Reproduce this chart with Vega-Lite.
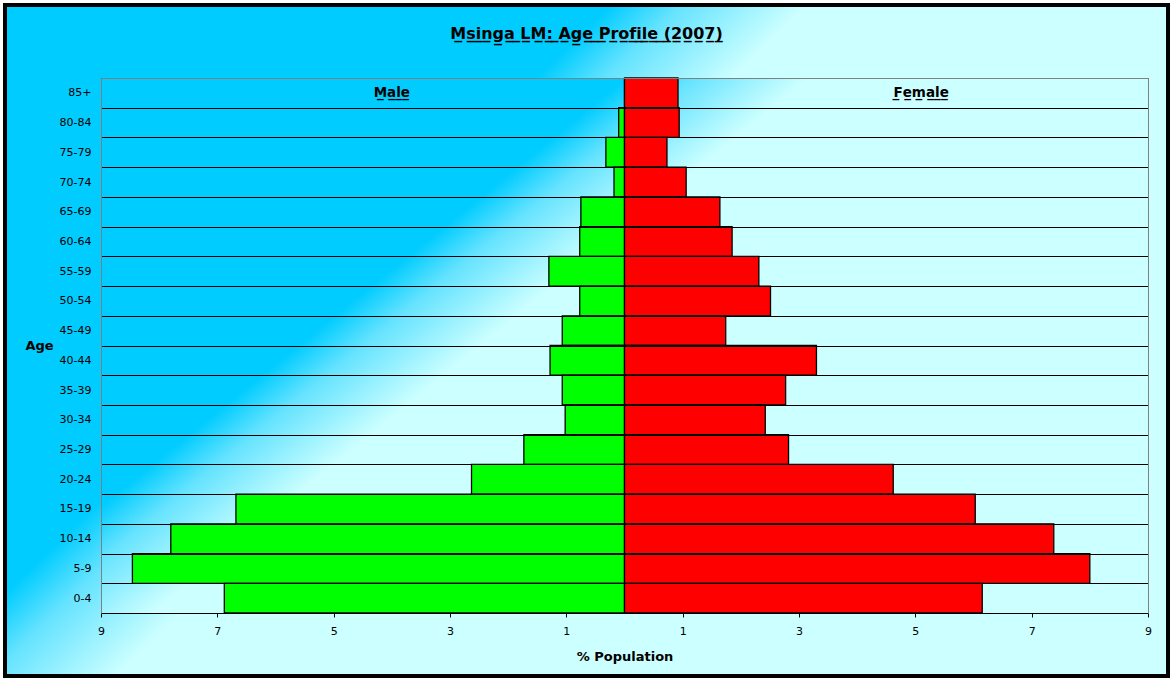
{
  "$schema": "https://vega.github.io/schema/vega-lite/v6.json",
  "width": 1163,
  "height": 671,
  "autosize": {"type": "none"},
  "padding": 5,
  "background": "#FFFFFF",
  "config": {
    "font": "DejaVu Sans",
    "view": {
      "stroke": "#000000",
      "strokeWidth": 4,
      "fill": {
        "gradient": "linear",
        "x1": 0, "y1": 0, "x2": 1, "y2": 0.594,
        "stops": [
          {"offset": 0, "color": "#00CCFF"},
          {"offset": 0.385, "color": "#00CCFF"},
          {"offset": 0.43, "color": "#66E3FF"},
          {"offset": 0.51, "color": "#CCFFFF"},
          {"offset": 1, "color": "#CCFFFF"}
        ]
      }
    }
  },
  "title": {
    "text": "M\u0332s\u0332i\u0332n\u0332g\u0332a\u0332 \u0332L\u0332M\u0332:\u0332 \u0332A\u0332g\u0332e\u0332 \u0332P\u0332r\u0332o\u0332f\u0332i\u0332l\u0332e\u0332 \u0332(\u03322\u03320\u03320\u03327\u0332)\u0332",
    "anchor": "middle",
    "frame": "group",
    "offset": -56,
    "baseline": "alphabetic",
    "font": "DejaVu Sans",
    "fontSize": 16,
    "fontWeight": "bold",
    "color": "#000000"
  },
  "data": {
    "values": [
      {"age": "85+", "sex": "Male", "pct": 0},
      {"age": "85+", "sex": "Female", "pct": 0.92},
      {"age": "80-84", "sex": "Male", "pct": -0.10},
      {"age": "80-84", "sex": "Female", "pct": 0.94},
      {"age": "75-79", "sex": "Male", "pct": -0.32},
      {"age": "75-79", "sex": "Female", "pct": 0.73},
      {"age": "70-74", "sex": "Male", "pct": -0.18},
      {"age": "70-74", "sex": "Female", "pct": 1.06},
      {"age": "65-69", "sex": "Male", "pct": -0.75},
      {"age": "65-69", "sex": "Female", "pct": 1.64},
      {"age": "60-64", "sex": "Male", "pct": -0.77},
      {"age": "60-64", "sex": "Female", "pct": 1.85},
      {"age": "55-59", "sex": "Male", "pct": -1.30},
      {"age": "55-59", "sex": "Female", "pct": 2.31},
      {"age": "50-54", "sex": "Male", "pct": -0.77},
      {"age": "50-54", "sex": "Female", "pct": 2.51},
      {"age": "45-49", "sex": "Male", "pct": -1.07},
      {"age": "45-49", "sex": "Female", "pct": 1.74},
      {"age": "40-44", "sex": "Male", "pct": -1.28},
      {"age": "40-44", "sex": "Female", "pct": 3.30},
      {"age": "35-39", "sex": "Male", "pct": -1.07},
      {"age": "35-39", "sex": "Female", "pct": 2.77},
      {"age": "30-34", "sex": "Male", "pct": -1.02},
      {"age": "30-34", "sex": "Female", "pct": 2.42},
      {"age": "25-29", "sex": "Male", "pct": -1.73},
      {"age": "25-29", "sex": "Female", "pct": 2.82},
      {"age": "20-24", "sex": "Male", "pct": -2.63},
      {"age": "20-24", "sex": "Female", "pct": 4.62},
      {"age": "15-19", "sex": "Male", "pct": -6.68},
      {"age": "15-19", "sex": "Female", "pct": 6.03},
      {"age": "10-14", "sex": "Male", "pct": -7.80},
      {"age": "10-14", "sex": "Female", "pct": 7.38},
      {"age": "5-9", "sex": "Male", "pct": -8.46},
      {"age": "5-9", "sex": "Female", "pct": 8.00},
      {"age": "0-4", "sex": "Male", "pct": -6.88},
      {"age": "0-4", "sex": "Female", "pct": 6.15}
    ]
  },
  "layer": [
    {
      "data": {"values": [{}]},
      "mark": {
        "type": "rect",
        "stroke": null,
        "fill": {
          "gradient": "linear",
          "x1": 0, "y1": 0, "x2": 1, "y2": 0.627,
          "stops": [
            {"offset": 0, "color": "#00CCFF"},
            {"offset": 0.36, "color": "#00CCFF"},
            {"offset": 0.405, "color": "#66E3FF"},
            {"offset": 0.485, "color": "#CCFFFF"},
            {"offset": 1, "color": "#CCFFFF"}
          ]
        }
      },
      "encoding": {
        "x": {
          "datum": -9,
          "type": "quantitative",
          "scale": {"domain": [-9, 9], "range": [96, 1143], "nice": false, "zero": false},
          "axis": null
        },
        "x2": {"datum": 9},
        "y": {
          "datum": "85+",
          "type": "nominal",
          "bandPosition": 0,
          "axis": null
        },
        "y2": {"datum": "0-4", "bandPosition": 1}
      }
    },
    {
      "mark": {"type": "bar", "stroke": "#000000", "strokeWidth": 1.3},
      "encoding": {
        "y": {
          "field": "age",
          "type": "nominal",
          "scale": {
            "domain": ["85+", "80-84", "75-79", "70-74", "65-69", "60-64", "55-59", "50-54", "45-49", "40-44", "35-39", "30-34", "25-29", "20-24", "15-19", "10-14", "5-9", "0-4"],
            "range": [73, 608],
            "paddingInner": 0,
            "paddingOuter": 0
          },
          "axis": {
            "orient": "left",
            "offset": -96,
            "zindex": 1,
            "domainColor": "#808080",
            "domainWidth": 1,
            "ticks": false,
            "tickSize": 0,
            "tickBand": "extent",
            "grid": true,
            "gridColor": "#000000",
            "gridWidth": 1,
            "gridOpacity": 1,
            "labelFont": "DejaVu Sans",
            "labelFontSize": 11,
            "labelColor": "#000000",
            "labelPadding": 10,
            "title": "Age",
            "titleAngle": 0,
            "titleFont": "DejaVu Sans",
            "titleFontSize": 13,
            "titleFontWeight": "bold",
            "titleColor": "#000000",
            "titleX": -62,
            "titleY": 340,
            "titleAlign": "center",
            "titleBaseline": "middle"
          }
        },
        "x": {
          "field": "pct",
          "type": "quantitative",
          "stack": null,
          "scale": {"domain": [-9, 9], "range": [96, 1143], "nice": false, "zero": false},
          "axis": {
            "orient": "bottom",
            "offset": -63,
            "zindex": 1,
            "values": [-9, -7, -5, -3, -1, 1, 3, 5, 7, 9],
            "labelExpr": "abs(datum.value)",
            "domainColor": "#000000",
            "tickColor": "#000000",
            "tickSize": 4,
            "grid": false,
            "labelFont": "DejaVu Sans",
            "labelFontSize": 11,
            "labelColor": "#000000",
            "labelPadding": 8,
            "labelFlush": false,
            "labelOverlap": false,
            "title": "% Population",
            "titleFont": "DejaVu Sans",
            "titleFontSize": 13,
            "titleFontWeight": "bold",
            "titleColor": "#000000",
            "titleY": 43,
            "titleBaseline": "middle"
          }
        },
        "color": {
          "field": "sex",
          "type": "nominal",
          "scale": {"domain": ["Male", "Female"], "range": ["#00FF00", "#FF0000"]},
          "legend": null
        }
      }
    },
    {
      "data": {"values": [{}]},
      "mark": {
        "type": "text",
        "text": "M\u0332a\u0332l\u0332e\u0332",
        "font": "DejaVu Sans",
        "fontSize": 13.5,
        "fontWeight": "bold",
        "color": "#000000",
        "align": "center",
        "baseline": "middle"
      },
      "encoding": {
        "x": {
          "datum": -4,
          "type": "quantitative",
          "axis": {"orient": "top", "offset": -73, "zindex": 1, "domainColor": "#808080", "domainWidth": 1, "ticks": false, "labels": false, "grid": false, "title": null}
        },
        "y": {
          "datum": "85+",
          "type": "nominal",
          "axis": {"orient": "right", "offset": -20, "zindex": 1, "domainColor": "#808080", "domainWidth": 1, "ticks": false, "labels": false, "grid": false, "title": null}
        }
      }
    },
    {
      "data": {"values": [{}]},
      "mark": {
        "type": "text",
        "text": "F\u0332e\u0332m\u0332a\u0332l\u0332e\u0332",
        "font": "DejaVu Sans",
        "fontSize": 13.5,
        "fontWeight": "bold",
        "color": "#000000",
        "align": "center",
        "baseline": "middle"
      },
      "encoding": {
        "x": {"datum": 5.1, "type": "quantitative", "axis": null},
        "y": {"datum": "85+", "type": "nominal", "axis": null}
      }
    }
  ],
  "resolve": {"axis": {"x": "independent", "y": "independent"}}
}
